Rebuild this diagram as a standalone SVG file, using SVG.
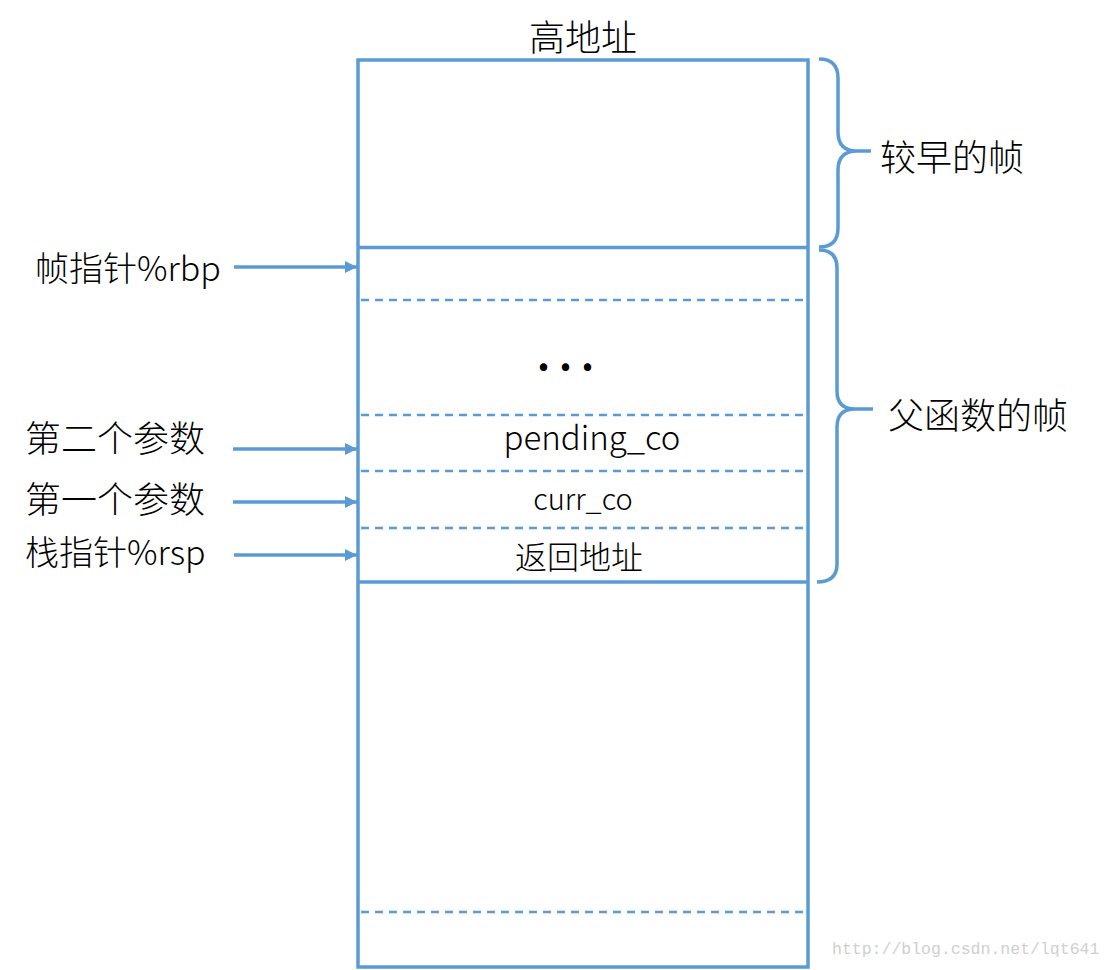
<svg xmlns="http://www.w3.org/2000/svg" width="1113" height="970" viewBox="0 0 1113 970">
<defs>
<style>
.solid{stroke:#5B9BD5;stroke-width:3.5;fill:none}
.dash{stroke:#5B9BD5;stroke-width:2.3;stroke-dasharray:8 6;fill:none}
.conn{stroke:#5B9BD5;stroke-width:3.5;fill:none}
.t{font-family:"Noto Sans CJK SC","Noto Sans",sans-serif;fill:#000;font-weight:300}
.wm{font-family:"Liberation Mono",monospace;fill:#cfcfcf;font-size:16.5px}
</style>
<marker id="ah" markerWidth="12" markerHeight="12" refX="12" refY="6" orient="auto" markerUnits="userSpaceOnUse">
<path d="M0,0 L12,6 L0,12 Z" fill="#5B9BD5"/>
</marker>
</defs>
<rect width="1113" height="970" fill="#fff"/>

<g id="stack">
<rect class="solid" x="358" y="60" width="450" height="907"/>
<line class="solid" x1="358" y1="247.5" x2="808" y2="247.5"/>
<line class="solid" x1="358" y1="582" x2="808" y2="582"/>
<line class="dash" x1="361" y1="300" x2="806" y2="300"/>
<line class="dash" x1="361" y1="415" x2="806" y2="415"/>
<line class="dash" x1="361" y1="471" x2="806" y2="471"/>
<line class="dash" x1="361" y1="528" x2="806" y2="528"/>
<line class="dash" x1="361" y1="912" x2="806" y2="912"/>
</g>

<g id="title"><text class="t" x="583" y="51" font-size="36" text-anchor="middle">高地址</text></g>

<g id="cells">
<text class="t" x="570" y="370" font-size="40" style="font-weight:bold" text-anchor="middle" letter-spacing="9">...</text>
<text class="t" x="592" y="450" font-size="33" text-anchor="middle">pending_co</text>
<text class="t" x="583" y="510" font-size="29" text-anchor="middle">curr_co</text>
<text class="t" x="579" y="569" font-size="32" text-anchor="middle">返回地址</text>
</g>

<g id="brace-earlier">
<path class="solid" d="M819,59 Q838,59 838,78 V132 Q838,151 857,151 H871 M857,151 Q838,151 838,170 V228 Q838,247 819,247"/>
<text class="t" x="880" y="171" font-size="36">较早的帧</text>
</g>

<g id="brace-parent">
<path class="solid" d="M819,250 Q837,250 837,268 V391 Q837,409 855,409 H873 M855,409 Q837,409 837,427 V564 Q837,582 817,582"/>
<text class="t" x="888" y="429" font-size="36">父函数的帧</text>
</g>

<g id="labels">
<text class="t" x="35" y="281" font-size="34">帧指针%rbp</text>
<text class="t" x="25" y="452" font-size="36">第二个参数</text>
<text class="t" x="25" y="513" font-size="36">第一个参数</text>
<text class="t" x="25" y="565" font-size="34">栈指针%rsp</text>
</g>

<g id="connectors">
<line class="conn" x1="234" y1="267" x2="357" y2="267" marker-end="url(#ah)"/>
<line class="conn" x1="233" y1="449" x2="357" y2="449" marker-end="url(#ah)"/>
<line class="conn" x1="233" y1="502" x2="357" y2="502" marker-end="url(#ah)"/>
<line class="conn" x1="234" y1="555" x2="357" y2="555" marker-end="url(#ah)"/>
</g>

<g id="watermark"><text class="wm" x="832" y="954">http://blog.csdn.net/lqt641</text></g>
</svg>
